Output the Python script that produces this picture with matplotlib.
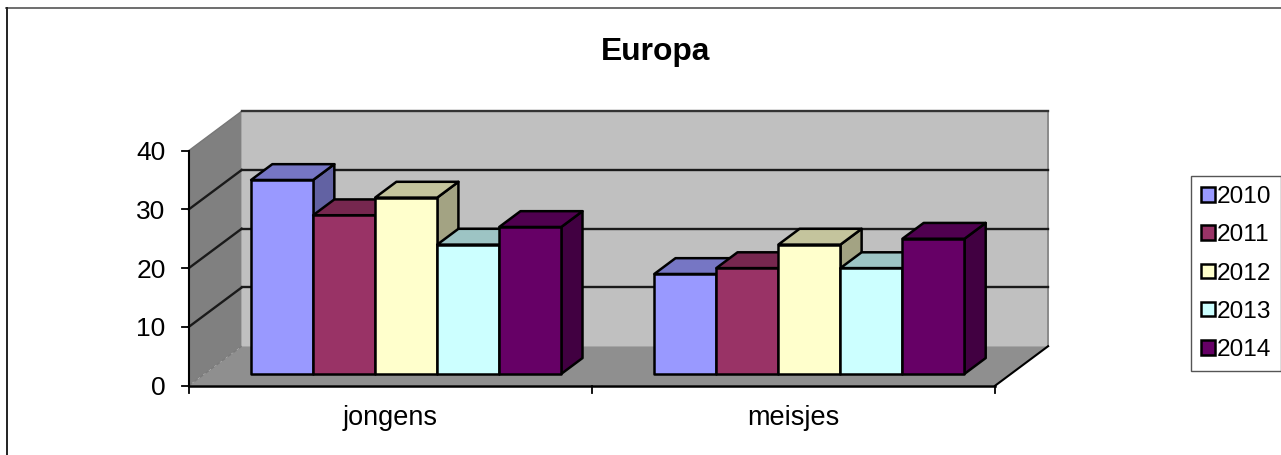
import matplotlib
matplotlib.use("Agg")
import matplotlib.pyplot as plt
from matplotlib.patches import Patch, Polygon

plt.rcParams['font.family'] = ['Liberation Sans', 'DejaVu Sans']

# data
categories = ["jongens", "meisjes"]
years = ["2010", "2011", "2012", "2013", "2014"]
jongens = [33, 27, 30, 22, 25]
meisjes = [17, 18, 22, 18, 23]
y_ticks = [0, 10, 20, 30, 40]
colors = ["#9999FF", "#993366", "#FFFFCC", "#CCFFFF", "#660066"]

# fake 3d projection, everything in pixels
X0, Y0 = 188.7, 385.7     # front left corner of the floor
CAT_W = 403.2             # width of one category
UNIT = 5.875              # pixels per value unit
DX, DY = 53.0, 39.5       # wall offset at full depth
GAP = 46.5                # space either side of a bar group
BAR_D0, BAR_D1 = 0.3, 0.7 # depth range of the bars


def proj(x, v, d=0.0):
    # x in categories, v in value units, d depth 0..1
    return (X0 + x * CAT_W + d * DX, Y0 - v * UNIT - d * DY)


def shade(hex_color, f):
    r, g, b = matplotlib.colors.to_rgb(hex_color)
    return (r * f, g * f, b * f)


def draw_bar(ax, x0, x1, v, color, z):
    lw = 1.8
    side = [proj(x1, 0, BAR_D0), proj(x1, 0, BAR_D1), proj(x1, v, BAR_D1), proj(x1, v, BAR_D0)]
    top = [proj(x0, v, BAR_D0), proj(x1, v, BAR_D0), proj(x1, v, BAR_D1), proj(x0, v, BAR_D1)]
    front = [proj(x0, 0, BAR_D0), proj(x1, 0, BAR_D0), proj(x1, v, BAR_D0), proj(x0, v, BAR_D0)]
    ax.add_patch(Polygon(side, fc=shade(color, 0.64), ec="black", lw=lw, zorder=z, joinstyle="round"))
    ax.add_patch(Polygon(top, fc=shade(color, 0.77), ec="black", lw=lw, zorder=z, joinstyle="round"))
    ax.add_patch(Polygon(front, fc=color, ec="black", lw=lw, zorder=z + 0.5, joinstyle="round"))


fig = plt.figure(figsize=(12.81, 4.55), dpi=100)
ax = fig.add_axes([0, 0, 1, 1])
ax.set_xlim(0, 1281)
ax.set_ylim(455, 0)
ax.axis("off")

# outer frame (only top and left show)
ax.plot([6, 1281], [8, 8], color="#555555", lw=1.2)
ax.plot([6.5, 6.5], [8, 455], color="#222222", lw=1.4)

# walls and floor
top = y_ticks[-1]
ax.add_patch(Polygon([proj(0, 0, 1), proj(2, 0, 1), proj(2, top, 1), proj(0, top, 1)], fc="#C0C0C0", ec="none", zorder=1))
ax.add_patch(Polygon([proj(0, 0, 0), proj(0, 0, 1), proj(0, top, 1), proj(0, top, 0)], fc="#808080", ec="none", zorder=1))
ax.add_patch(Polygon([proj(0, 0, 0), proj(2, 0, 0), proj(2, 0, 1), proj(0, 0, 1)], fc="#8F8F8F", ec="none", zorder=1))
ax.plot(*zip(proj(2, 0, 1), proj(2, top, 1)), color="#8a8a8a", lw=1.4, zorder=1.5)
ax.plot(*zip(proj(0, 0, 0), proj(0, 0, 1)), color="#7a7a7a", lw=1, ls=(0, (3, 2)), zorder=1.5)
ax.plot(*zip(proj(0, top, 0), proj(0, top, 1)), color="#777777", lw=1, zorder=1.5)

# gridlines on the two walls
for t in y_ticks[1:]:
    c = "#1a1a1a" if t < top else "#333333"
    ax.plot(*zip(proj(2, t, 1), proj(0, t, 1)), color=c, lw=1.7, zorder=2)
    if t < top:
        ax.plot(*zip(proj(0, t, 1), proj(0, t, 0)), color=c, lw=1.7, zorder=2)

# axis lines and ticks
ax.plot(*zip(proj(0, 0), proj(0, top)), color="black", lw=1.5, zorder=3)
ax.plot(*zip(proj(0, 0), proj(2, 0)), color="black", lw=1.8, zorder=3)
ax.plot(*zip(proj(2, 0, 0), proj(2, 0, 1)), color="black", lw=1.5, zorder=3)
for t in y_ticks:
    px, py = proj(0, t)
    ax.plot([px - 7, px], [py, py], color="black", lw=1.3, zorder=3)
    ax.text(px - 23, py, str(t), ha="right", va="center_baseline", fontsize=19)
for i in range(len(categories) + 1):
    px, py = proj(i, 0)
    ax.plot([px, px], [py, py + 7], color="black", lw=1.3, zorder=3)

# bars
bar_w = (1 - 2 * GAP / CAT_W) / len(years)
z = 4
for i, vals in enumerate([jongens, meisjes]):
    start = i + GAP / CAT_W
    for j, v in enumerate(vals):
        draw_bar(ax, start + j * bar_w, start + (j + 1) * bar_w, v, colors[j], z)
        z += 1

# labels
for i, c in enumerate(categories):
    px, py = proj(i + 0.5, 0)
    ax.text(px, 418, c, ha="center", va="center", fontsize=19.5)
ax.text(655.5, 52, "Europa", ha="center", va="center", fontsize=22.9, fontweight="bold")

handles = [Patch(fc=c, ec="black", lw=1.8, label=y) for c, y in zip(colors, years)]
leg = ax.legend(handles=handles, loc="upper left", bbox_to_anchor=(1191 / 1281, 1 - 176 / 455),
                fontsize=17.6, frameon=True, fancybox=False, framealpha=1, edgecolor="#555555",
                handlelength=0.55, handleheight=0.55, handletextpad=0.08, labelspacing=0.66,
                borderpad=0.42, borderaxespad=0)
leg.get_frame().set_linewidth(1.0)
leg.set_zorder(20)

fig.savefig("out.png", dpi=100)
